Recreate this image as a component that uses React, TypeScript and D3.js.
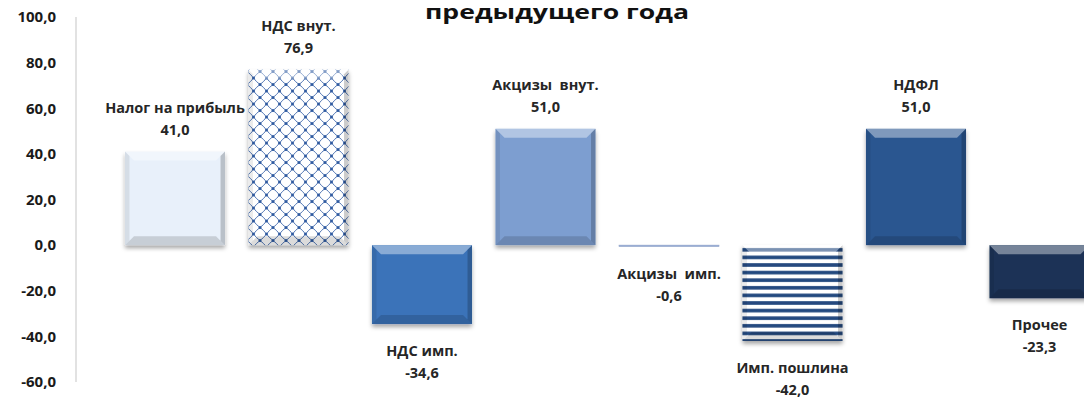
import React from "react";
import * as d3 from "d3";

const categories = [
  "Налог на прибыль",
  "НДС внут.",
  "НДС имп.",
  "Акцизы  внут.",
  "Акцизы  имп.",
  "Имп. пошлина",
  "НДФЛ",
  "Прочее",
];
const values = [41.0, 76.9, -34.6, 51.0, -0.6, -42.0, 51.0, -23.3];
const barFills = [
  "#e8f0fa",
  "url(#lattice)",
  "#3b73b9",
  "#7d9ed0",
  "#8ea6d4",
  "url(#stripes)",
  "#2b5790",
  "#1b3356",
];
const yTicks = [100, 80, 60, 40, 20, 0, -20, -40, -60];
const titleText = "предыдущего года";

const W = 1084;
const H = 400;
const fmt = (v: number) => v.toFixed(1).replace(".", ",");

export default function App() {
  const y = d3.scaleLinear().domain([-60, 100]).range([382, 17]);
  const x = d3
    .scaleBand<string>()
    .domain(categories)
    .range([113.25, 1101.25])
    .paddingInner(0.19)
    .paddingOuter(0.095);
  const bw = x.bandwidth();
  const font = "'Open Sans', 'Noto Sans', sans-serif";

  return (
    <svg
      width={W}
      height={H}
      style={{ position: "absolute", left: 0, top: 0, background: "#fff" }}
      fontFamily={font}
    >
      <defs>
        <pattern id="lattice" patternUnits="userSpaceOnUse" width="13" height="13" x="0" y="0">
          <rect width="13" height="13" fill="#fff" />
          <path
            d="M0,6.5 Q3.8,3.8 6.5,0 Q9.2,3.8 13,6.5 Q9.2,9.2 6.5,13 Q3.8,9.2 0,6.5 Z"
            fill="none"
            stroke="#3d67ab"
            strokeWidth="0.9"
          />
          <circle cx="0" cy="6.5" r="1.5" fill="#2f5aa0" />
          <circle cx="13" cy="6.5" r="1.5" fill="#2f5aa0" />
          <circle cx="6.5" cy="0" r="1.5" fill="#2f5aa0" />
          <circle cx="6.5" cy="13" r="1.5" fill="#2f5aa0" />
        </pattern>
        <pattern id="stripes" patternUnits="userSpaceOnUse" width="10" height="7.6" x="0" y="246">
          <rect width="10" height="7.6" fill="#fff" />
          <rect width="10" height="3.6" y="2" fill="#24497f" />
        </pattern>
        <filter id="shadow" x="-10%" y="-10%" width="120%" height="130%">
          <feDropShadow dx="0" dy="3" stdDeviation="2.2" floodColor="#000" floodOpacity="0.35" />
        </filter>
      </defs>

      {/* title */}
      <text
        x={557}
        y={19}
        textAnchor="middle"
        fontSize={19}
        fontWeight="bold"
        fill="#111"
        textLength={264}
        lengthAdjust="spacingAndGlyphs"
      >
        {titleText}
      </text>

      {/* y axis labels */}
      {yTicks.map((t) => (
        <text
          key={t}
          x={56}
          y={y(t)}
          dy="0.35em"
          textAnchor="end"
          fontSize={15}
          fontWeight="bold"
          fill="#1a1a1a"
        >
          {fmt(t)}
        </text>
      ))}
      <line x1={76} x2={76} y1={y(100)} y2={y(-60)} stroke="#d9d9d9" strokeWidth={1.5} />

      {/* bars */}
      {categories.map((c, i) => {
        const v = values[i];
        const bx = x(c)!;
        const top = y(Math.max(0, v));
        const bot = y(Math.min(0, v));
        const h = bot - top;
        const b = Math.min(9, h / 2);
        const r = bx + bw;
        const tiny = h < 4;
        return (
          <g key={c}>
            <g filter={tiny ? undefined : "url(#shadow)"}>
              <rect x={bx} y={top} width={bw} height={Math.max(h, 1.5)} fill={barFills[i]} stroke={tiny ? "#9aaacb" : "none"} strokeWidth={0.6} />
            </g>
            {!tiny && (
              <g>
                <polygon
                  points={`${bx},${top} ${r},${top} ${r - b},${top + b} ${bx + b},${top + b}`}
                  fill="#fff"
                  opacity={0.4}
                />
                <polygon
                  points={`${bx},${bot} ${r},${bot} ${r - b},${bot - b} ${bx + b},${bot - b}`}
                  fill="#000"
                  opacity={0.14}
                />
                <polygon
                  points={`${bx},${top} ${bx + b * 0.5},${top + b * 0.5} ${bx + b * 0.5},${bot - b * 0.5} ${bx},${bot}`}
                  fill="#000"
                  opacity={0.08}
                />
                <polygon
                  points={`${r},${top} ${r - b * 0.5},${top + b * 0.5} ${r - b * 0.5},${bot - b * 0.5} ${r},${bot}`}
                  fill="#000"
                  opacity={0.2}
                />
              </g>
            )}
          </g>
        );
      })}

      {/* labels */}
      {categories.map((c, i) => {
        const v = values[i];
        const cx = x(c)! + bw / 2;
        const pos = v >= 0;
        const y1 = pos ? y(v) - 44 : y(v) + 27;
        const y2 = pos ? y(v) - 22 : y(v) + 49;
        return (
          <g key={"l" + c} fontSize={14.5} fontWeight="bold" fill="#262626" textAnchor="middle">
            <text x={cx} y={y1} dy="0.35em" style={{ whiteSpace: "pre" }}>
              {c}
            </text>
            <text x={cx} y={y2} dy="0.35em">
              {fmt(v)}
            </text>
          </g>
        );
      })}
    </svg>
  );
}
